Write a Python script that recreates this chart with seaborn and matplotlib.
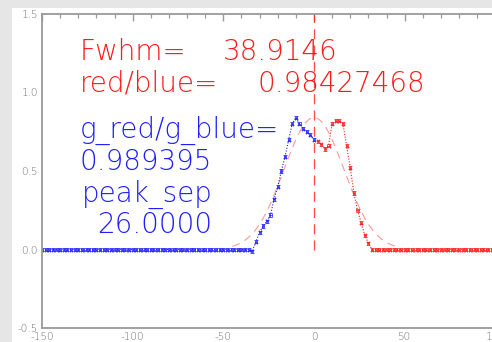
import numpy as np
import pandas as pd
import matplotlib
matplotlib.use("Agg")
import matplotlib.pyplot as plt
from matplotlib.patches import Rectangle
from matplotlib.ticker import MultipleLocator, FormatStrFormatter
import seaborn as sns

# --- line profile, split into blue and red wings (velocity offset vs. normalised flux) ---
blue_flat_x = list(range(-150, -34, 2))
blue_flat_y = [0.0] * len(blue_flat_x)
blue_peak_x = [-34, -32, -30, -28, -26, -24, -22, -20, -18, -16, -14, -12, -10, -8, -6, -4, -2, 0]
blue_peak_y = [-0.01, 0.05, 0.11, 0.15, 0.18, 0.22, 0.32, 0.40, 0.50, 0.59, 0.70, 0.80, 0.84,
               0.80, 0.77, 0.75, 0.73, 0.70]

red_peak_x = [2, 4, 6, 8, 10, 12, 14, 16, 18, 20, 22, 24, 26, 28, 30, 32]
red_peak_y = [0.69, 0.67, 0.64, 0.66, 0.80, 0.82, 0.82, 0.80, 0.66, 0.52, 0.36, 0.25, 0.17,
              0.09, 0.04, 0.00]
red_flat_x = list(range(34, 152, 2))
red_flat_y = [0.0] * len(red_flat_x)

# half bin width and flux uncertainty drawn as error bars
bin_half = 0.6
flux_err = 0.01

# Gaussian fit parameters
fwhm = 38.9146
fit_amp = 0.84
fit_center = 0.0
fit_range = (-45.0, 45.0)

red_blue = "0.98427468"
g_red_blue = "0.989395"
peak_sep = "26.0000"

blue = pd.DataFrame({"v": blue_flat_x + blue_peak_x, "flux": blue_flat_y + blue_peak_y})
red = pd.DataFrame({"v": red_peak_x + red_flat_x, "flux": red_peak_y + red_flat_y})

sigma = fwhm / (2.0 * np.sqrt(2.0 * np.log(2.0)))
fit_v = np.linspace(fit_range[0], fit_range[1], 200)
fit = pd.DataFrame({"v": fit_v,
                    "flux": fit_amp * np.exp(-0.5 * ((fit_v - fit_center) / sigma) ** 2)})

sns.set_theme(style="white")
plt.rcParams["font.family"] = ["DejaVu Sans"]

W, H = 492, 342
fig = plt.figure(figsize=(W / 100, H / 100), dpi=100)
fig.patch.set_facecolor("#e6e6e6")
fig.add_artist(Rectangle((12 / W, 0), 1 - 12 / W, 1 - 8 / H, transform=fig.transFigure,
                         facecolor="white", edgecolor="none", zorder=0))

# plot box runs from -150 to 150; the right part lies past the figure edge
left_px, right_px, top_px, bottom_px = 42, 586, 14, 328
ax = fig.add_axes([left_px / W, (H - bottom_px) / H, (right_px - left_px) / W,
                   (bottom_px - top_px) / H])
ax.set_facecolor("none")

BLUE = "#1e1eff"
RED = "#ff1a1a"

ax.axvline(0, ymin=0.25, ymax=1, color=RED, lw=0.9, dashes=(8, 5), alpha=0.8)
sns.lineplot(data=fit, x="v", y="flux", ax=ax, color=RED, lw=0.8, alpha=0.45,
             linestyle=(0, (7, 5)))

for df, col in ((blue, BLUE), (red, RED)):
    sns.lineplot(data=df, x="v", y="flux", ax=ax, color=col, lw=0.8, linestyle=(0, (1, 1.5)))
    ax.errorbar(df["v"], df["flux"], xerr=bin_half, yerr=flux_err, fmt="none", ecolor=col,
                elinewidth=0.6, capsize=1.2, capthick=0.6, alpha=0.85)

ax.set_xlim(-150, 150)
ax.set_ylim(-0.5, 1.5)
ax.set_xlabel("")
ax.set_ylabel("")
ax.xaxis.set_major_locator(MultipleLocator(50))
ax.xaxis.set_minor_locator(MultipleLocator(10))
ax.yaxis.set_major_locator(MultipleLocator(0.5))
ax.yaxis.set_minor_locator(MultipleLocator(0.1))
ax.yaxis.set_major_formatter(FormatStrFormatter("%.1f"))
ax.xaxis.set_major_formatter(FormatStrFormatter("%d"))

axis_col = "#9a9a9a"
for s in ax.spines.values():
    s.set_color(axis_col)
    s.set_linewidth(1.3)
ax.tick_params(which="both", direction="in", colors=axis_col, top=True, right=True,
               labelcolor="#707070", labelsize=7.5, pad=3)
ax.tick_params(which="major", length=7, width=1.0)
ax.tick_params(which="minor", length=4, width=0.9)
ax.tick_params(axis="x", which="major", length=5)
ax.tick_params(axis="x", which="minor", length=3)
for lab in ax.get_xticklabels() + ax.get_yticklabels():
    lab.set_fontweight("light")

txt = dict(fontsize=20, fontweight=200, va="baseline", ha="left")


def put(x_px, base_px, s, col):
    fig.text(x_px / W, 1 - base_px / H, s, color=col, **txt)


put(80, 60, "Fwhm=", RED)
put(223, 60, f"{fwhm:.4f}", RED)
put(80, 92, "red/blue=", RED)
put(258, 92, red_blue, RED)
put(80, 138, "g_red/g_blue=", BLUE)
put(80, 170, g_red_blue, BLUE)
put(82, 202, "peak_sep", BLUE)
put(97, 233, peak_sep, BLUE)

fig.savefig("out.png", dpi=100)
